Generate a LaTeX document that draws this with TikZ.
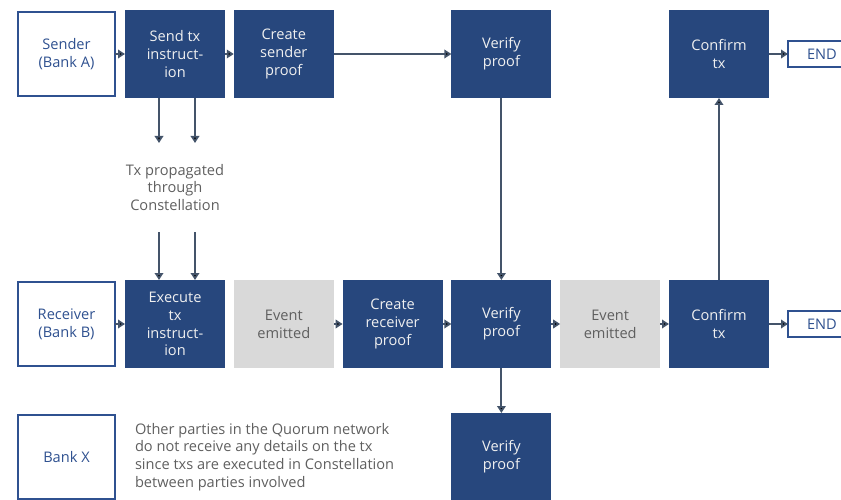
\documentclass[tikz,border=0pt]{standalone}
\usepackage{fontspec}
\setmainfont{Open Sans}
\usetikzlibrary{arrows.meta, positioning}
\definecolor{qblue}{HTML}{27477D}
\definecolor{qgrey}{HTML}{D9D9D9}
\definecolor{qtext}{HTML}{5F5F5F}
\definecolor{qline}{HTML}{44546A}
\definecolor{qedge}{HTML}{2F5190}
\tikzset{
    dark/.style={fill=qblue, text=white!94!black, minimum width=100pt, minimum height=88pt, inner sep=0pt},
    grey/.style={fill=qgrey, text=qtext, minimum width=100pt, minimum height=88pt, inner sep=0pt},
    party/.style={draw=qedge, line width=2pt, fill=white, text=qedge, minimum width=97pt, minimum height=84pt, inner sep=0pt},
    endbox/.style={draw=qedge, line width=2pt, fill=white, text=qedge, minimum width=68pt, minimum height=26pt, inner sep=0pt},
    hint/.style={text=qtext, inner sep=0pt},
    line/.style={draw=qline, line width=1.9pt},
}
\begin{document}
\begin{tikzpicture}[x=1pt, y=1pt]
    \tikzset{
      node distance=8.8pt,
      every node/.append style={font=\fontsize{14.6}{17.8}\selectfont, align=center, outer sep=0pt},
      >={Triangle[length=7pt, width=8.5pt]}
    }
    \useasboundingbox (0,0) rectangle (841,499);

    % receiver row
    \node[party] (r0) at (66.5,175) {Receiver\\(Bank B)};
    \node[dark, right=10pt of r0] (r1) {Execute\\tx\\instruct-\\ion};
    \node[grey, right=of r1] (r2) {Event\\emitted};
    \node[dark, right=of r2] (r3) {Create\\receiver\\proof};
    \node[dark, right=of r3] (r4) {Verify\\proof};
    \node[grey, right=of r4] (r5) {Event\\emitted};
    \node[dark, right=of r5] (r6) {Confirm\\tx};
    \node[endbox, right=19pt of r6] (r7) {END};

    % sender row
    \node[dark, above=182pt of r1] (s1) {Send tx\\instruct-\\ion};
    \node[party, left=10pt of s1] (s0) {Sender\\(Bank A)};
    \node[dark, right=of s1] (s2) {Create\\sender\\proof};
    \node[dark, above=182pt of r4] (s3) {Verify\\proof};
    \node[dark, above=182pt of r6] (s4) {Confirm\\tx};
    \node[endbox, right=19pt of s4] (s5) {END};

    \node[hint, below=45pt of s1, minimum height=89pt] (prop) {Tx propagated\\through\\Constellation};

    % other parties
    \node[party, below=49pt of r0] (x0) {Bank X};
    \node[hint, right=20pt of x0, align=left] (note) {Other parties in the Quorum network\\do not receive any details on the tx\\since txs are executed in Constellation\\between parties involved};
    \node[dark, below=45pt of r4] (x1) {Verify\\proof};

    \draw[line] (s0) edge[->] (s1);
    \draw[line] (s1) edge[->] (s2);
    \draw[line] (s2) edge[->] (s3);
    \draw[line] (s4) edge[->] (s5);

    \draw[line] ([xshift=-16pt]s1.south) edge[->] ([xshift=-16pt]prop.north);
    \draw[line] ([xshift=20pt]s1.south) edge[->] ([xshift=20pt]prop.north);
    \draw[line] ([xshift=-16pt]prop.south) edge[->] ([xshift=-16pt]r1.north);
    \draw[line] ([xshift=20pt]prop.south) edge[->] ([xshift=20pt]r1.north);

    \draw[line] (s3) edge[->] (r4);
    \draw[line] (r6) edge[->] (s4);
    \draw[line] (r4) edge[->] (x1);

    \draw[line] (r0) edge[->] (r1);
    \draw[line] (r2) edge[->] (r3);
    \draw[line] (r3) edge[->] (r4);
    \draw[line] (r4) edge[->] (r5);
    \draw[line] (r5) edge[->] (r6);
    \draw[line] (r6) edge[->] (r7);
\end{tikzpicture}
\end{document}
